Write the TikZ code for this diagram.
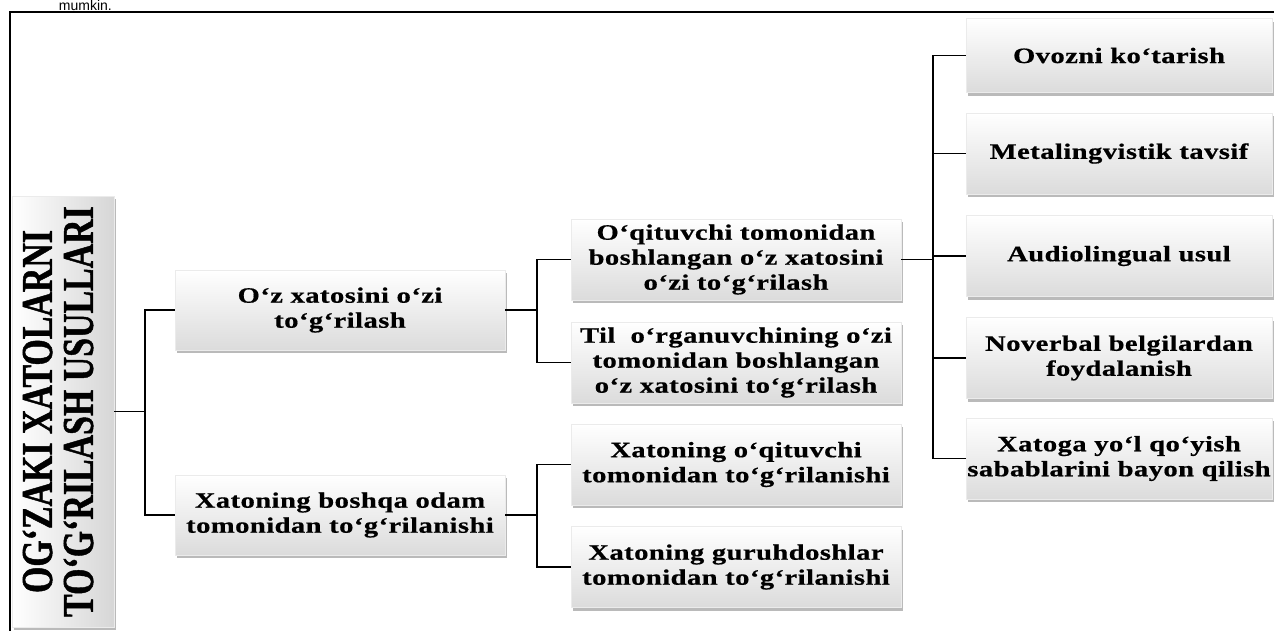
\documentclass[tikz,border=0pt]{standalone}
\usepackage{graphicx}
\usepackage{fontspec}
\setmainfont{Liberation Serif}
\newfontfamily\boxfont[FakeStretch=1.3,LetterSpace=2,FakeBold=0.6]{Liberation Serif}
\newfontfamily\ttlfont[FakeBold=1.2]{Liberation Serif}
\newfontfamily\sansf{Liberation Sans}
\usetikzlibrary{shadows}
\tikzset{
  gbox/.style={rectangle, inner xsep=0pt, inner ysep=0pt, align=center,
    top color=white, bottom color=black!14, draw=black!8, line width=0.4pt,
    drop shadow={shadow xshift=2pt, shadow yshift=-3pt, opacity=0.45, fill=black!60},
    font=\boxfont\bfseries\fontsize{22pt}{25pt}\selectfont},
  l1box/.style={gbox, minimum width=330pt, minimum height=80pt},
  l2box/.style={gbox, minimum width=330pt, minimum height=81pt},
  l3box/.style={gbox, minimum width=306pt, minimum height=81pt},
  ttlbox/.style={rectangle, inner sep=0pt, minimum width=102pt, minimum height=431pt,
    left color=white, right color=black!16, draw=black!8, line width=0.4pt,
    drop shadow={shadow xshift=2pt, shadow yshift=-3pt, opacity=0.45, fill=black!60}},
  conn/.style={draw=black, line width=1.4pt},
  frame/.style={draw=black, line width=1.6pt}
}
\begin{document}
\begin{tikzpicture}[x=1pt, y=-1pt]
\useasboundingbox (0,0) rectangle (1274,630);
% page fragment text at top
\node[anchor=base east, inner sep=0pt, font=\sansf\fontsize{14pt}{14pt}\selectfont] (frag) at (112,10) {mumkin.};
% frame
\coordinate (fbl) at (10,650);
\coordinate (ftl) at (10,12);
\coordinate (ftr) at (1290,12);
\draw[frame] (fbl) -- (ftl) -- (ftr);

% title
\node[ttlbox] (title) at (63,411.5) {\rotatebox{90}{\ttlfont\bfseries\fontsize{44pt}{47pt}\selectfont
  \begin{tabular}{@{}c@{}}\scalebox{0.77}[1]{OG‘ZAKI XATOLARNI}\\[-6pt]\scalebox{0.77}[1]{TO‘G‘RILASH USULLARI}\end{tabular}}};

% level 1
\node[l1box] (la) at (340,310) {O‘z xatosini o‘zi\\to‘g‘rilash};
\node[l1box] (lb) at (340,515) {Xatoning boshqa odam\\tomonidan to‘g‘rilanishi};

% level 2
\node[l2box] (a) at (736,259.5) {O‘qituvchi tomonidan\\boshlangan o‘z xatosini\\o‘zi to‘g‘rilash};
\node[l2box] (b) at (736,362.5) {Til\ \ o‘rganuvchining o‘zi\\tomonidan boshlangan\\o‘z xatosini to‘g‘rilash};
\node[l2box] (c) at (736,464.5) {Xatoning o‘qituvchi\\tomonidan to‘g‘rilanishi};
\node[l2box] (d) at (736,567) {Xatoning guruhdoshlar\\tomonidan to‘g‘rilanishi};

% level 3
\node[l3box, minimum height=74pt] (r1) at (1119,55.5) {Ovozni ko‘tarish};
\node[l3box] (r2) at (1119,153.5) {Metalingvistik tavsif};
\node[l3box] (r3) at (1119,256) {Audiolingual usul};
\node[l3box] (r4) at (1119,358) {Noverbal belgilardan\\foydalanish};
\node[l3box] (r5) at (1119,458.5) {Xatoga yo‘l qo‘yish\\sabablarini bayon qilish};

% junctions
\coordinate (j1) at (145,411.5);
\coordinate (j2) at (537,310);
\coordinate (j3) at (537,515);
\coordinate (j4) at (933,259.5);

% connectors
\draw[conn] (title.east) -- (j1);
\draw[conn] (la.west) -| (j1);
\draw[conn] (lb.west) -| (j1);
\draw[conn] (la.east) -- (j2);
\draw[conn] (a.west) -| (j2);
\draw[conn] (b.west) -| (j2);
\draw[conn] (lb.east) -- (j3);
\draw[conn] (c.west) -| (j3);
\draw[conn] (d.west) -| (j3);
\draw[conn] (a.east) -- (j4);
\draw[conn] (r1.west) -| (j4);
\draw[conn] (r2.west) -| (j4);
\draw[conn] (r3.west) -| (j4);
\draw[conn] (r4.west) -| (j4);
\draw[conn] (r5.west) -| (j4);
\end{tikzpicture}
\end{document}
